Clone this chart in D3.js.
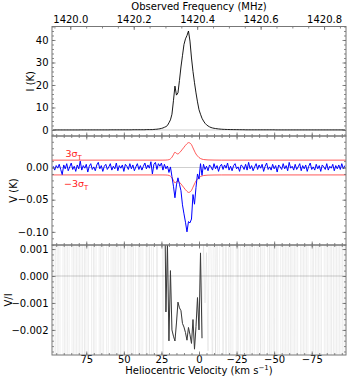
<!DOCTYPE html>
<html><head><meta charset="utf-8">
<script src="https://cdn.jsdelivr.net/npm/d3@7"></script>
<style>body{margin:0;background:#fff}svg text{font-family:"DejaVu Sans",sans-serif}</style>
</head><body><svg id="c" width="349" height="381"></svg>
<script>
// ---------------- data ----------------
const velocity = d3.range(97, -98, -1); // channel velocities (km/s), 1 km/s channels
const stokesI = [
 0.03,0.03,0.03,0.03,0.03,0.03,0.03,0.03,0.03,0.03,0.03,0.03,0.03,0.03,0.03,0.03,0.03,0.03,
 0.05,0.05,0.05,0.05,0.05,0.05,0.05,0.05,0.05,0.05,0.05,0.05,0.05,0.05,0.05,0.05,0.05,0.05,0.05,0.05,
 0.08,0.08,0.08,0.08,0.08,0.08,0.08,0.08,0.08,0.08,0.08,0.08,0.08,0.08,0.08,
 0.12,0.12,0.12,0.12,0.12,0.12,0.12,0.12,0.12,
 0.18,0.18,0.18,0.18,0.18,
 0.25,0.3,0.35,0.45,0.55,0.7,0.9,1.2,1.5,2.0,3.2,4.5,7,13,19.5,15.5,16.5,22,28,33,38,40.5,42,44,39.5,32,26,21,16.5,12.5,9,7,5.2,4,3,2.3,1.8,1.4,1.1,0.9,0.75,0.65,0.55,0.48,0.4,0.35,
 0.3,0.27,0.24,0.22,0.2,0.19,0.18,0.17,0.16,0.15,0.14,0.13,0.12,0.12,0.11,
 0.08,0.08,0.08,0.08,0.08,0.08,0.08,0.08,0.08,0.08,0.08,0.08,0.08,0.08,0.08,0.08,0.08,0.08,0.08,0.08,
 0.04,0.04,0.04,0.04,0.04,0.04,0.04,0.04,0.04,0.04,0.04,0.04,0.04,0.04,0.04,0.04,0.04,0.04,0.04,0.04,
 0.04,0.04,0.04,0.04,0.04,0.04,0.04,0.04,0.04,0.04,0.04,0.04,0.04,0.04,0.04,0.04,0.04,0.04,0.04,0.04,
 0.04,0.04,0.04,0.04,0.04,0.04,0.04
];
// Stokes V in mK
const stokesV_mK = [
 2,-4,3,-1,5,-3,-11,4,-2,6, -5,1,7,-3,2,-6,4,-2,10,-4, 3,-1,5,-7,2,6,-3,1,-5,4,
 8,-2,3,-6,2,5,-3,1,6,-4, 2,-2,7,-5,3,-1,4,-6,5,2, -3,6,-2,4,-5,1,6,-3,3,-4,
 2,7,-2,4,-1,9,-10,5,8,-3, 6,2,7,-4,
 5,-2,2.4,-7.7,0.9,-14,-29,-47,-27,-16,-26,-36,-58,-72,-85,-100,-84,-86,-80,-42,-57,-31,-10,-18,6,-12,
 5,-3,2,-5,4,1,-4,6,-2,3, -6,2,5,-3,4,-1,7,-4,2,-5, 3,6,-2,1,-6,4,2,-3,5,-4,
 8,-2,3,-5,1,6,-3,4,-1,5, -6,2,7,-3,1,-4,5,-2,3,-7, 4,1,-3,6,-2,3,-5,8,-1,2,
 -4,5,-3,1,6,-5,3,-2,4,-6, 2,7,-3,1,-4,5,-2,3,-6,4, 1,-3,6,-4,2,-1,5,-5,3,-2, 4,-3,6,-2,3
];
// 3-sigma_T envelope (mK)
const sigmaVel = [97.8,30,24,22,20,19,18,17,16,15,14,13,12,11,10,9,8,7,6,5,4,3,2,1,0,-1,-2,-4,-6,-10,-15,-97.8];
const sigma3_mK = [11.5,11.5,11.5,11.6,12.2,13.5,16,20,23.8,22,21,23,25.5,28.5,31.5,34.5,37,38.7,38,35.5,30.5,25.5,21,18,15.5,14,13,12.2,11.8,11.6,11.5,11.5];

const freqTicks = [1420.0, 1420.2, 1420.4, 1420.6, 1420.8];
const velTicks = [75, 50, 25, 0, -25, -50, -75];
const iTicks = [0, 10, 20, 30, 40];
const vTicks = [0, -0.05, -0.10];
const ratioTicks = [0.001, 0, -0.001, -0.002];
const coreRange = [23, -2]; // channels drawn dark in V/I

// ---------------- layout ----------------
const svg = d3.select("#c");
const L = 52, R = 346;
const P = [{t:26.5,b:136},{t:136,b:245},{t:245,b:355}];
const x = d3.scaleLinear().domain([97.8, -97.8]).range([L, R]);
const f0 = 1420.405752, cLight = 299792.458;
const xf = d3.scaleLinear().domain(x.domain().map(v => f0 * (1 - v / cLight))).range([L, R]);
const yI = d3.scaleLinear().domain([-2.67, 46]).range([P[0].b, P[0].t]);
const yV = d3.scaleLinear().domain([-0.1204, 0.049]).range([P[1].b, P[1].t]);
const yR = d3.scaleLinear().domain([-0.00293, 0.00115]).range([P[2].b, P[2].t]);

const defs = svg.append("defs");
P.forEach((p, i) => defs.append("clipPath").attr("id", "clip" + i)
  .append("rect").attr("x", L).attr("y", p.t).attr("width", R - L).attr("height", p.b - p.t));

// zero lines
[yI, yV, yR].forEach(s => {
  svg.append("line").attr("x1", L).attr("x2", R).attr("y1", s(0)).attr("y2", s(0))
    .attr("stroke", "#cfcfcf").attr("stroke-width", 1);
});

// ---- panel 1: Stokes I ----
const gI = svg.append("g").attr("clip-path", "url(#clip0)");
gI.append("path").datum(velocity.map((v, i) => [v, stokesI[i]]))
  .attr("fill", "none").attr("stroke", "#000").attr("stroke-width", 0.9)
  .attr("d", d3.line().x(d => x(d[0])).y(d => yI(d[1])));

// ---- panel 2: Stokes V ----
const gV = svg.append("g").attr("clip-path", "url(#clip1)");
const sigPts = sigmaVel.map((v, i) => [x(v), sigma3_mK[i] / 1000]).sort((a, b) => a[0] - b[0]);
const sigLine = sgn => d3.line().curve(d3.curveMonotoneX).x(d => d[0]).y(d => yV(sgn * d[1]));
gV.append("path").datum(sigPts).attr("fill", "none").attr("stroke", "#ff3030").attr("stroke-opacity", 0.8)
  .attr("stroke-width", 1).attr("d", sigLine(1));
gV.append("path").datum(sigPts).attr("fill", "none").attr("stroke", "#ff3030").attr("stroke-opacity", 0.8)
  .attr("stroke-width", 1).attr("d", sigLine(-1));
gV.append("path").datum(velocity.map((v, i) => [v, stokesV_mK[i] / 1000]))
  .attr("fill", "none").attr("stroke", "#0000ff").attr("stroke-width", 1)
  .attr("d", d3.line().x(d => x(d[0])).y(d => yV(d[1])));

// labels 3σT
function sigLabel(xp, yp, neg) {
  const t = svg.append("text").attr("x", xp).attr("y", yp).attr("fill", "#ff2020").attr("font-size", 9.5);
  t.append("tspan").text((neg ? "\u22123" : "3") + "\u03c3");
  t.append("tspan").attr("dy", 2.5).attr("font-size", 7).text("T");
}
sigLabel(65.5, 157, false);
sigLabel(64, 187, true);

// ---- panel 3: V/I ----
const ratio = velocity.map((v, i) => [v, (stokesV_mK[i] / 1000) / stokesI[i]]);
const clampR = d => Math.max(-0.05, Math.min(0.05, d));
const gR = svg.append("g").attr("clip-path", "url(#clip2)");
const rLine = d3.line().x(d => x(d[0])).y(d => yR(clampR(d[1])));
gR.append("path").datum(ratio).attr("fill", "none").attr("stroke", "#000").attr("stroke-opacity", 0.065)
  .attr("stroke-width", 1).attr("d", rLine);
gR.append("path").datum(ratio.filter(d => d[0] <= coreRange[0] && d[0] >= coreRange[1]))
  .attr("fill", "none").attr("stroke", "#3a3a3a").attr("stroke-width", 1).attr("d", rLine);

// ---------------- axes ----------------
const tickCol = "#6a6a6a";
function ticks(axisFn, scale, tr, majors, minors, fmt, pad) {
  const a = svg.append("g").attr("transform", tr)
    .call(axisFn(scale).tickValues(minors).tickSize(-2).tickFormat(""));
  a.select(".domain").remove();
  a.selectAll("line").attr("stroke", tickCol).attr("stroke-width", 0.8);
  const b = svg.append("g").attr("transform", tr)
    .call(axisFn(scale).tickValues(majors).tickSize(-3.5).tickPadding(pad == null ? 3.5 : pad).tickFormat(fmt || (() => "")));
  b.select(".domain").remove();
  b.selectAll("line").attr("stroke", tickCol).attr("stroke-width", 0.8);
  b.selectAll("text").attr("font-size", 10).attr("fill", "#000").attr("font-family", "DejaVu Sans");
  return b;
}
const velMinor = d3.range(-95, 96, 5);
const freqMinor = d3.range(1419.95, 1420.87, 0.05).map(d => +d.toFixed(2));
// top panel
ticks(d3.axisTop, xf, `translate(0,${P[0].t})`, freqTicks, freqMinor, d3.format(".1f"));
ticks(d3.axisBottom, x, `translate(0,${P[0].b})`, velTicks, velMinor, null);
ticks(d3.axisLeft, yI, `translate(${L},0)`, iTicks, d3.range(-2, 47, 2), d3.format("d"));
ticks(d3.axisRight, yI, `translate(${R},0)`, iTicks, d3.range(-2, 47, 2), null);
// middle
ticks(d3.axisTop, x, `translate(0,${P[1].t})`, velTicks, velMinor, null);
ticks(d3.axisBottom, x, `translate(0,${P[1].b})`, velTicks, velMinor, null);
const vMinor = d3.range(-12, 5, 1).map(d => d / 100);
ticks(d3.axisLeft, yV, `translate(${L},0)`, vTicks, vMinor, d3.format(".2f"));
ticks(d3.axisRight, yV, `translate(${R},0)`, vTicks, vMinor, null);
// bottom
ticks(d3.axisTop, x, `translate(0,${P[2].t})`, velTicks, velMinor, null);
ticks(d3.axisBottom, x, `translate(0,${P[2].b})`, velTicks, velMinor, d3.format("d"), 0.5);
const rMinor = d3.range(-14, 6, 1).map(d => d / 5000);
ticks(d3.axisLeft, yR, `translate(${L},0)`, ratioTicks, rMinor, d3.format(".3f"));
ticks(d3.axisRight, yR, `translate(${R},0)`, ratioTicks, rMinor, null);

// frames
P.forEach(p => svg.append("rect").attr("x", L).attr("y", p.t).attr("width", R - L).attr("height", p.b - p.t)
  .attr("fill", "none").attr("stroke", "#777").attr("stroke-width", 1));

// titles
svg.append("text").attr("x", (L + R) / 2).attr("y", 10).attr("text-anchor", "middle").attr("font-size", 10)
  .text("Observed Frequency (MHz)");
const bt = svg.append("text").attr("x", (L + R) / 2).attr("y", 374).attr("text-anchor", "middle").attr("font-size", 10);
bt.append("tspan").text("Heliocentric Velocity (km s");
bt.append("tspan").attr("dy", -4).attr("font-size", 7).text("\u22121");
bt.append("tspan").attr("dy", 4).text(")");
function ylab(txt, xp, yp) {
  svg.append("text").attr("transform", `translate(${xp},${yp}) rotate(-90)`).attr("text-anchor", "middle")
    .attr("font-size", 10).text(txt);
}
ylab("I (K)", 34, (P[0].t + P[0].b) / 2);
ylab("V (K)", 17, (P[1].t + P[1].b) / 2);
ylab("V/I", 12, (P[2].t + P[2].b) / 2);
</script></body></html>
